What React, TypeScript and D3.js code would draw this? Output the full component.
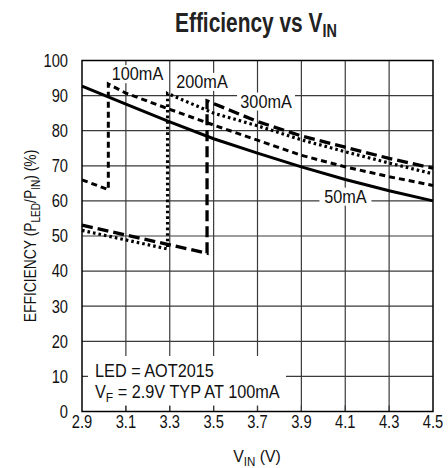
import * as d3 from "d3";
import type { ReactNode } from "react";

// V_IN (V) vs efficiency (%)
const curve50mA: [number, number][] = [
  [2.9, 92.7], [3.1, 87.6], [3.3, 82.5], [3.5, 77.7], [3.7, 73.6],
  [3.9, 69.7], [4.1, 66.1], [4.3, 62.9], [4.5, 60],
];
const curve100mA: [number, number][] = [
  [2.9, 66], [3.02, 63.2], [3.02, 93.3], [3.1, 90.7], [3.3, 86.1],
  [3.5, 81.6], [3.7, 77.3], [3.9, 73], [4.1, 69.7], [4.3, 66.9], [4.5, 64.4],
];
const curve200mA: [number, number][] = [
  [2.9, 51.6], [3.29, 46.3], [3.29, 90.6], [3.5, 85], [3.7, 81.4],
  [3.9, 77.4], [4.1, 74], [4.3, 70.8], [4.5, 67.7],
];
const curve300mA: [number, number][] = [
  [2.9, 53.1], [3.47, 45.1], [3.47, 88.5], [3.7, 82.6], [3.9, 78.5],
  [4.1, 75.3], [4.3, 72.1], [4.5, 69.3],
];

const xTicks = [2.9, 3.1, 3.3, 3.5, 3.7, 3.9, 4.1, 4.3, 4.5];
const yTicks = [0, 10, 20, 30, 40, 50, 60, 70, 80, 90, 100];

const curveLabels = [
  { text: "100mA", x: 3.153, y: 94.4, w: 56 },
  { text: "200mA", x: 3.447, y: 92.2, w: 58 },
  { text: "300mA", x: 3.739, y: 86.6, w: 58 },
  { text: "50mA", x: 4.101, y: 59.5, w: 52 },
];

const FONT = "'Liberation Sans', Arial, sans-serif";

function Narrow({
  x,
  y,
  size,
  sx = 0.84,
  anchor = "start",
  rotate = 0,
  children,
}: {
  x: number;
  y: number;
  size: number;
  sx?: number;
  anchor?: string;
  rotate?: number;
  children: ReactNode;
}) {
  return (
    <g transform={`translate(${x},${y}) rotate(${rotate}) scale(${sx},1)`}>
      <text x={0} y={0} fontSize={size} textAnchor={anchor} fill="#111">
        {children}
      </text>
    </g>
  );
}

export default function App() {
  const width = 448;
  const height = 468;
  const left = 82;
  const right = 433;
  const top = 60.5;
  const bottom = 411.5;

  const x = d3.scaleLinear().domain([2.9, 4.5]).range([left, right]);
  const y = d3.scaleLinear().domain([0, 100]).range([bottom, top]);

  const line = d3
    .line<[number, number]>()
    .x((d) => x(d[0]))
    .y((d) => y(d[1]));

  const series = [
    { data: curve50mA, dash: "none", w: 3 },
    { data: curve100mA, dash: "6,4", w: 3 },
    { data: curve200mA, dash: "2.6,3", w: 3.2 },
    { data: curve300mA, dash: "11,5", w: 3.3 },
  ];

  return (
    <svg
      width={width}
      height={height}
      style={{ position: "absolute", left: 0, top: 0, background: "#fff" }}
      fontFamily={FONT}
    >
      {/* title */}
      <g transform="translate(175,31.5) scale(0.76,1)">
        <text x={0} y={0} fontSize={27.5} fontWeight="bold" fill="#222">
          Efficiency vs V
          <tspan dy={5} fontSize={19}>IN</tspan>
        </text>
      </g>

      {/* grid */}
      {xTicks.slice(1, -1).map((t) => (
        <line key={"gx" + t} x1={x(t)} x2={x(t)} y1={top} y2={bottom} stroke="#3a3a3a" strokeWidth={1.2} />
      ))}
      {yTicks.slice(1, -1).map((t) => (
        <line key={"gy" + t} x1={left} x2={right} y1={y(t)} y2={y(t)} stroke="#3a3a3a" strokeWidth={1.2} />
      ))}

      {/* legend box hides part of grid */}
      <rect x={88} y={356} width={198} height={50} fill="#fff" />
      {xTicks.slice(1, -1).map((t) => (
        <line key={"tx" + t} x1={x(t)} x2={x(t)} y1={bottom - 6} y2={bottom} stroke="#3a3a3a" strokeWidth={1.2} />
      ))}
      <Narrow x={95} y={377} size={17.5} sx={0.93}>LED = AOT2015</Narrow>
      <Narrow x={95} y={398} size={17.5} sx={0.93}>
        V<tspan dy={4} fontSize={13}>F</tspan>
        <tspan dy={-4}> = 2.9V TYP AT 100mA</tspan>
      </Narrow>

      {/* curve labels */}
      {curveLabels.map((l) => (
        <g key={l.text}>
          <rect x={x(l.x) - l.w / 2} y={y(l.y) - 15} width={l.w} height={18} fill="#fff" />
          <Narrow x={x(l.x)} y={y(l.y)} size={17.5} sx={0.93} anchor="middle">
            {l.text}
          </Narrow>
        </g>
      ))}

      {/* curves */}
      {series.map((s, i) => (
        <path
          key={i}
          d={line(s.data) ?? ""}
          fill="none"
          stroke="#000"
          strokeWidth={s.w}
          strokeDasharray={s.dash}
          strokeLinejoin="miter"
        />
      ))}

      {/* frame */}
      <rect x={left} y={top} width={right - left} height={bottom - top} fill="none" stroke="#000" strokeWidth={1.5} />

      {/* axes labels */}
      {yTicks.map((t) => (
        <Narrow key={"ly" + t} x={68} y={y(t) + 6.3} size={17.5} anchor="end">
          {t}
        </Narrow>
      ))}
      {xTicks.map((t) => (
        <Narrow key={"lx" + t} x={x(t)} y={428} size={17.5} anchor="middle">
          {t.toFixed(1)}
        </Narrow>
      ))}
      <Narrow x={257} y={462} size={17} sx={0.93}>
        <tspan textAnchor="middle">
          V<tspan dy={4} fontSize={12.5}>IN</tspan>
          <tspan dy={-4}> (V)</tspan>
        </tspan>
      </Narrow>
      <Narrow x={36} y={(top + bottom) / 2} size={16.5} anchor="middle" rotate={-90}>
        EFFICIENCY (P<tspan dy={4} fontSize={12}>LED</tspan>
        <tspan dy={-4}>/P</tspan>
        <tspan dy={4} fontSize={12}>IN</tspan>
        <tspan dy={-4}>) (%)</tspan>
      </Narrow>
    </svg>
  );
}
